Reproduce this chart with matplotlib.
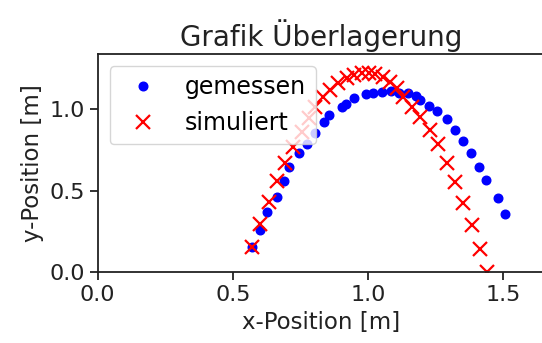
import matplotlib
matplotlib.use("Agg")
import matplotlib.pyplot as plt

# gemessen (measured)
x_gemessen = [0.570, 0.601, 0.626, 0.663, 0.691, 0.706, 0.746, 0.776, 0.804, 0.838,
              0.857, 0.903, 0.918, 0.949, 0.993, 1.018, 1.051, 1.085, 1.116, 1.148,
              1.178, 1.193, 1.227, 1.257, 1.291, 1.322, 1.352, 1.380, 1.412, 1.437,
              1.480, 1.506]
y_gemessen = [0.152, 0.258, 0.370, 0.462, 0.561, 0.644, 0.734, 0.786, 0.853, 0.924,
              0.963, 1.012, 1.031, 1.071, 1.092, 1.102, 1.108, 1.109, 1.102, 1.097,
              1.082, 1.057, 1.020, 0.990, 0.943, 0.873, 0.804, 0.730, 0.646, 0.566,
              0.453, 0.357]

# simuliert (simulated)
x_simuliert = [0.570, 0.601, 0.632, 0.663, 0.693, 0.724, 0.755, 0.780, 0.804, 0.835,
               0.860, 0.890, 0.922, 0.949, 0.977, 1.002, 1.026, 1.055, 1.082, 1.109,
               1.131, 1.162, 1.193, 1.230, 1.260, 1.292, 1.322, 1.353, 1.384, 1.415,
               1.440]
y_simuliert = [0.152, 0.296, 0.433, 0.562, 0.668, 0.771, 0.863, 0.945, 1.012, 1.077,
               1.118, 1.160, 1.190, 1.211, 1.225, 1.225, 1.217, 1.196, 1.170, 1.129,
               1.077, 1.016, 0.955, 0.873, 0.787, 0.668, 0.556, 0.423, 0.290, 0.141,
               0.003]

xticks = [0.0, 0.5, 1.0, 1.5]
yticks = [0.0, 0.5, 1.0]

fig = plt.figure(figsize=(5.42, 3.43), dpi=100)
ax = fig.add_axes([0.1803, 0.2064, 0.8258, 0.6362])

ax.plot(x_gemessen, y_gemessen, 'o', color='blue', markersize=6.2,
        linestyle='none', label='gemessen')
ax.plot(x_simuliert, y_simuliert, 'x', color='red', markersize=9.4,
        markeredgewidth=1.6, linestyle='none', label='simuliert')

ax.set_xlim(0.0, 1.656)
ax.set_ylim(0.0, 1.339)
ax.set_xticks(xticks)
ax.set_yticks(yticks)
ax.set_xticklabels([f"{v:.1f}" for v in xticks])
ax.set_yticklabels([f"{v:.1f}" for v in yticks])

ax.tick_params(labelsize=16, length=5.8, width=1.3, colors='#222222')
for s in ax.spines.values():
    s.set_linewidth(1.3)
    s.set_color('#222222')

ax.set_xlabel('x-Position [m]', fontsize=16.5, color='#222222')
ax.set_ylabel('y-Position [m]', fontsize=16.5, color='#222222')
ax.set_title('Grafik Überlagerung', fontsize=20, color='#222222')

ax.legend(loc='upper left', fontsize=17)

fig.savefig('out.png', dpi=100)
